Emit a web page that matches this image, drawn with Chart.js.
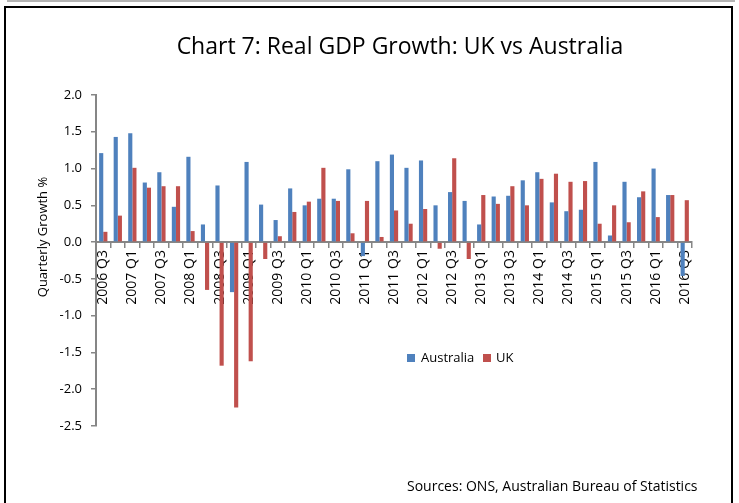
<!DOCTYPE html>
<html>
<head>
<meta charset="utf-8">
<script src="https://cdn.jsdelivr.net/npm/chart.js@4.4.1/dist/chart.umd.min.js"></script>
<style>
  html, body { margin: 0; padding: 0; background: #fff; }
  body { width: 739px; height: 503px; position: relative; overflow: hidden; font-family: "Open Sans", sans-serif; color: #000; }
  #chart { position: absolute; left: 0; top: 0; }
  .topline { position: absolute; left: 7px; top: 0; width: 728px; height: 2px; background: #b4b4b4; }
  .frame { position: absolute; left: 4px; top: 6px; width: 725px; height: 520px; border: 2px solid #000; pointer-events: none; }
  .title { position: absolute; left: 150px; width: 500px; top: 34px; font-size: 23px; line-height: 23px; text-align: center; white-space: nowrap; }
  .ytitle { position: absolute; left: 42px; top: 237px; font-size: 13px; line-height: 13px; white-space: nowrap; transform: translate(-50%, -50%) rotate(-90deg); }
  .leg { position: absolute; font-size: 13px; line-height: 13px; white-space: nowrap; }
  .sw { position: absolute; width: 8px; height: 8px; }
  .source { position: absolute; left: 407px; top: 479px; font-size: 14px; line-height: 14px; white-space: nowrap; }
</style>
</head>
<body>
<canvas id="chart" width="739" height="503"></canvas>
<div class="topline"></div>
<div class="frame"></div>
<div class="title">Chart 7: Real GDP Growth: UK vs Australia</div>
<div class="ytitle">Quarterly Growth %</div>
<div class="sw" style="left:407px;top:354px;background:#4F81BD"></div>
<div class="leg" style="left:421px;top:351px">Australia</div>
<div class="sw" style="left:483px;top:354px;background:#C0504D"></div>
<div class="leg" style="left:496px;top:351px">UK</div>
<div class="source">Sources: ONS, Australian Bureau of Statistics</div>
<script>
const quarters = [
  '2006 Q3', '2006 Q4',
  '2007 Q1', '2007 Q2', '2007 Q3', '2007 Q4',
  '2008 Q1', '2008 Q2', '2008 Q3', '2008 Q4',
  '2009 Q1', '2009 Q2', '2009 Q3', '2009 Q4',
  '2010 Q1', '2010 Q2', '2010 Q3', '2010 Q4',
  '2011 Q1', '2011 Q2', '2011 Q3', '2011 Q4',
  '2012 Q1', '2012 Q2', '2012 Q3', '2012 Q4',
  '2013 Q1', '2013 Q2', '2013 Q3', '2013 Q4',
  '2014 Q1', '2014 Q2', '2014 Q3', '2014 Q4',
  '2015 Q1', '2015 Q2', '2015 Q3', '2015 Q4',
  '2016 Q1', '2016 Q2', '2016 Q3'
];

const australia = [
  1.21, 1.43,
  1.48, 0.81, 0.95, 0.48,
  1.16, 0.24, 0.77, -0.68,
  1.09, 0.51, 0.30, 0.73,
  0.50, 0.59, 0.59, 0.99,
  -0.19, 1.10, 1.19, 1.01,
  1.11, 0.50, 0.68, 0.56,
  0.24, 0.62, 0.63, 0.84,
  0.95, 0.54, 0.42, 0.44,
  1.09, 0.09, 0.82, 0.61,
  1.00, 0.64, -0.46
];

const uk = [
  0.14, 0.36,
  1.01, 0.74, 0.76, 0.76,
  0.15, -0.65, -1.68, -2.25,
  -1.62, -0.23, 0.08, 0.41,
  0.55, 1.01, 0.56, 0.12,
  0.56, 0.07, 0.43, 0.25,
  0.45, -0.09, 1.14, -0.23,
  0.64, 0.52, 0.76, 0.50,
  0.86, 0.93, 0.82, 0.83,
  0.25, 0.50, 0.27, 0.69,
  0.34, 0.64, 0.57
];

const yMin = -2.5;
const yMax = 2.0;
const yStep = 0.5;

const axisGrey = '#868686';

function makeChart(elementId) {
  const data = {
    labels: quarters,
    datasets: [
      { label: 'Australia', data: australia, backgroundColor: '#4F81BD' },
      { label: 'UK', data: uk, backgroundColor: '#C0504D' }
    ]
  };

  const config = {
    type: 'bar',
    data: data,
    options: {
      responsive: false,
      animation: false,
      devicePixelRatio: 1,
      categoryPercentage: 0.57,
      barPercentage: 1.0,
      layout: {
        padding: { left: 0, top: 95, right: 47, bottom: 77 }
      },
      plugins: {
        legend: { display: false },
        title: { display: false },
        tooltip: { enabled: false }
      },
      scales: {
        x: {
          type: 'category',
          position: { y: 0 },
          offset: true,
          grid: {
            offset: true,
            drawOnChartArea: false,
            drawTicks: true,
            tickLength: 5,
            color: axisGrey,
            lineWidth: 1.5
          },
          border: { color: axisGrey, width: 2 },
          ticks: {
            autoSkip: false,
            minRotation: 90,
            maxRotation: 90,
            padding: 3,
            color: '#000',
            font: { family: 'Open Sans', size: 14 },
            callback: function(value, index) {
              return index % 2 === 0 ? quarters[index] : '';
            }
          }
        },
        y: {
          min: yMin,
          max: yMax,
          afterFit: function(scale) { scale.width = 96; },
          grid: {
            drawOnChartArea: false,
            drawTicks: true,
            tickLength: 5,
            color: axisGrey,
            lineWidth: 1.5
          },
          border: { color: axisGrey, width: 2 },
          ticks: {
            stepSize: yStep,
            padding: 9,
            color: '#000',
            font: { family: 'Open Sans', size: 13 },
            callback: function(value) { return Number(value).toFixed(1); }
          }
        }
      }
    }
  };

  return new Chart(document.getElementById(elementId), config);
}

makeChart('chart');
</script>
</body>
</html>
